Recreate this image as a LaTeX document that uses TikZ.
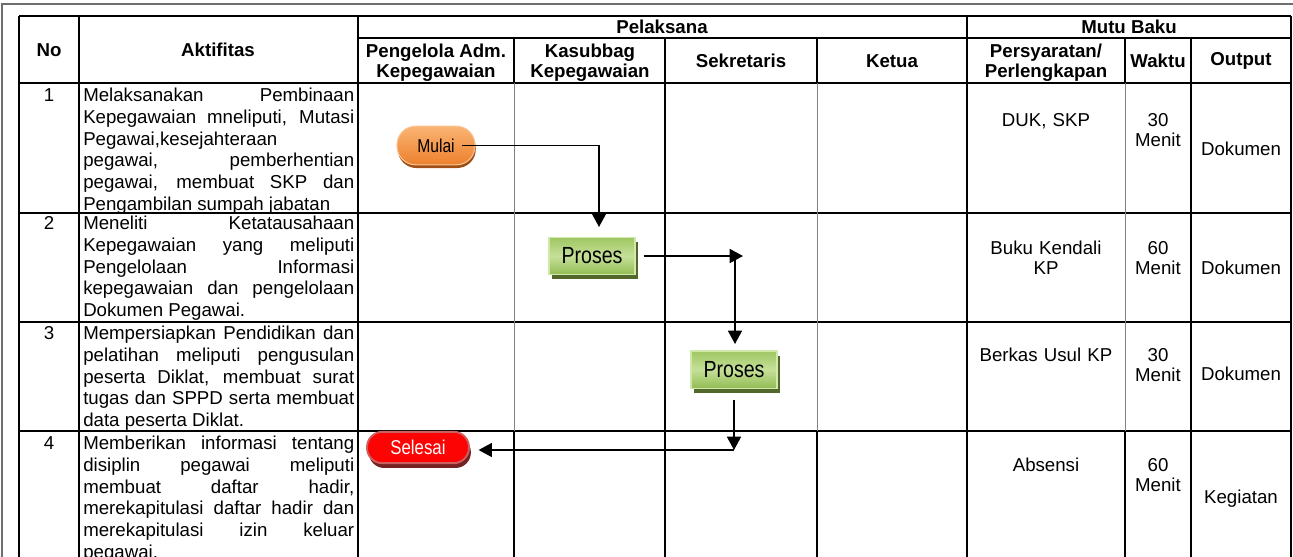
\documentclass[tikz,border=0pt]{standalone}
\usepackage{fontspec}
\setmainfont{Liberation Sans}
\newfontfamily\narrowfont[FakeStretch=0.84]{Liberation Sans}
\usetikzlibrary{arrows.meta,shadows}
\definecolor{frameg}{RGB}{110,110,110}
\definecolor{thinv}{RGB}{130,130,130}
\definecolor{orTop}{RGB}{250,180,115}
\definecolor{orBot}{RGB}{236,128,45}
\definecolor{orBrd}{RGB}{248,196,150}
\definecolor{orSh}{RGB}{160,78,20}
\definecolor{grTop}{RGB}{158,198,98}
\definecolor{grMid}{RGB}{198,224,152}
\definecolor{grBot}{RGB}{146,188,84}
\definecolor{grBrd}{RGB}{208,232,170}
\definecolor{grSh}{RGB}{82,104,42}
\definecolor{rdFill}{RGB}{252,4,4}
\definecolor{rdBrd}{RGB}{205,95,95}
\definecolor{rdSh}{RGB}{118,34,34}
\newcommand{\jl}[1]{\makebox[\linewidth][s]{#1}}
\begin{document}
\begin{tikzpicture}[x=0.75pt,y=-0.75pt,
  tline/.style={line width=1.5pt,draw=black},
  medline/.style={line width=1pt,draw=black},
  thinline/.style={line width=0.75pt,draw=thinv},
  framel/.style={line width=1.5pt,draw=frameg},
  body/.style={font=\fontsize{14}{16.3}\selectfont,inner sep=0pt},
  rbody/.style={font=\fontsize{14}{15.2}\selectfont,inner sep=0pt,align=center,anchor=base},
  hdr/.style={font=\fontsize{14}{15}\selectfont\bfseries,inner sep=0pt,align=center},
  actv/.style={body,text width=203.25pt,align=justify,anchor=base west},
  numc/.style={body,anchor=base},
  mulaibox/.style={rectangle,rounded corners=14pt,minimum width=58.5pt,minimum height=29pt,inner sep=0pt,
    draw=orBrd,line width=0.8pt,top color=orTop,bottom color=orBot,
    drop shadow={shadow xshift=0.6pt,shadow yshift=-2.4pt,fill=orSh,opacity=1},
    font=\narrowfont\fontsize{14}{14}\selectfont},
  prosesbox/.style={rectangle,minimum width=64.5pt,minimum height=28pt,inner sep=0pt,
    draw=grBrd,line width=1pt,top color=grTop,bottom color=grBot,middle color=grMid,
    drop shadow={shadow xshift=2.6pt,shadow yshift=-3.6pt,fill=grSh,opacity=1},
    font=\narrowfont\fontsize{17.5}{17.5}\selectfont},
  selesaibox/.style={rectangle,rounded corners=11.5pt,minimum width=76.5pt,minimum height=23.5pt,inner sep=0pt,
    draw=rdBrd,line width=1.4pt,fill=rdFill,
    drop shadow={shadow xshift=1.4pt,shadow yshift=-3.6pt,fill=rdSh,opacity=1},
    text=white,font=\narrowfont\fontsize{15}{15}\selectfont},
  conn/.style={line width=1.2pt,-{Triangle[length=10pt,width=10.5pt]}},
]
\useasboundingbox (0,0) rectangle (1293,557);

% outer frame
\draw[framel] (2,557) -- (2,3.5) -- (1293,3.5);

% horizontal lines
\draw[tline] (19,16) -- (1291,16);
\draw[tline] (358,38) -- (1291,38);
\foreach \yy in {83,213,322,431} \draw[tline] (19,\yy) -- (1291,\yy);

% verticals
\foreach \xx in {19,79,358,1291} \draw[tline] (\xx,16) -- (\xx,557);
\draw[tline] (967,16) -- (967,83);
\draw[medline] (967,83) -- (967,431);
\draw[tline] (967,431) -- (967,557);
\foreach \xx in {514,817,1125} {
  \draw[tline] (\xx,38) -- (\xx,83);
  \draw[thinline] (\xx,83) -- (\xx,431);
  \draw[tline] (\xx,431) -- (\xx,557);
}
\foreach \xx in {665,1191} {
  \draw[tline] (\xx,38) -- (\xx,83);
  \draw[medline] (\xx,83) -- (\xx,431);
  \draw[tline] (\xx,431) -- (\xx,557);
}

% headers
\node[hdr] (hno) at (49,50) {No};
\node[hdr] (hakt) at (218,50) {Aktifitas};
\node[hdr] (hpel) at (662,27) {Pelaksana};
\node[hdr] (hmutu) at (1129,27) {Mutu Baku};
\node[hdr] (hpeng) at (436,62.5) {Pengelola Adm.\\Kepegawaian};
\node[hdr] (hkas) at (590,62.5) {Kasubbag\\Kepegawaian};
\node[hdr] (hsek) at (741,61) {Sekretaris};
\node[hdr] (hket) at (892,61) {Ketua};
\node[hdr] (hpers) at (1046,62.5) {Persyaratan/\\Perlengkapan};
\node[hdr] (hwak) at (1158,61) {Waktu};
\node[hdr] (hout) at (1241,61) {Output};

% numbers
\node[numc] (n1) at (49,101.7) {1};
\node[numc] (n2) at (49,229.7) {2};
\node[numc] (n3) at (49,339.7) {3};
\node[numc] (n4) at (49,449.7) {4};

% activities
\node[actv] (a1) at (83,101.7) {\jl{Melaksanakan Pembinaan}\\\jl{Kepegawaian mneliputi, Mutasi}\\Pegawai,kesejahteraan\\\jl{pegawai, pemberhentian}\\\jl{pegawai, membuat SKP dan}\\Pengambilan sumpah jabatan};
\node[actv] (a2) at (83,229.7) {\jl{Meneliti Ketatausahaan}\\\jl{Kepegawaian yang meliputi}\\\jl{Pengelolaan Informasi}\\\jl{kepegawaian dan pengelolaan}\\Dokumen Pegawai.};
\node[actv] (a3) at (83,339.7) {\jl{Mempersiapkan Pendidikan dan}\\\jl{pelatihan meliputi pengusulan}\\\jl{peserta Diklat, membuat surat}\\\jl{tugas dan SPPD serta membuat}\\data peserta Diklat.};
\node[actv] (a4) at (83,449.7) {\jl{Memberikan informasi tentang}\\\jl{disiplin pegawai meliputi}\\\jl{membuat daftar hadir,}\\\jl{merekapitulasi daftar hadir dan}\\\jl{merekapitulasi izin keluar}\\pegawai.};

% mutu baku
\node[rbody,text width=110pt] (p1) at (1046,126.7) {DUK, SKP};
\node[rbody,text width=45pt] (w1) at (1158,126.7) {30\\Menit};
\node[rbody] (o1) at (1241,155.7) {Dokumen};
\node[rbody,text width=110pt] (p2) at (1046,254.7) {Buku Kendali\\KP};
\node[rbody,text width=45pt] (w2) at (1158,254.7) {60\\Menit};
\node[rbody] (o2) at (1241,274.7) {Dokumen};
\node[rbody,text width=110pt] (p3) at (1046,361.7) {Berkas Usul KP};
\node[rbody,text width=45pt] (w3) at (1158,361.7) {30\\Menit};
\node[rbody] (o3) at (1241,380.7) {Dokumen};
\node[rbody,text width=110pt] (p4) at (1046,471.7) {Absensi};
\node[rbody,text width=45pt] (w4) at (1158,471.7) {60\\Menit};
\node[rbody] (o4) at (1241,503.7) {Kegiatan};

% flow nodes
\node[mulaibox] (mulai) at (436,145.5) {Mulai};
\node[prosesbox] (proses1) at (592,256) {Proses};
\node[prosesbox] (proses2) at (734,369.5) {Proses};
\node[selesaibox] (selesai) at (418,447.5) {Selesai};

% connector points
\coordinate (c1) at (599,227);
\coordinate (c2) at (743,256);
\coordinate (c2b) at (735,256);
\coordinate (c3) at (735,344);
\coordinate (c4) at (734,450);

\draw[conn] ([xshift=-10pt]mulai.east) -| (c1);
\draw[conn] ([xshift=6pt]proses1.east) -- (c2);
\draw[conn] (c2b) -- (c3);
\draw[conn] ([yshift=-8pt]proses2.south) -- (c4);
\draw[conn,shorten >=6.5pt] (c4) -- (c4 -| selesai.east);
\end{tikzpicture}
\end{document}
